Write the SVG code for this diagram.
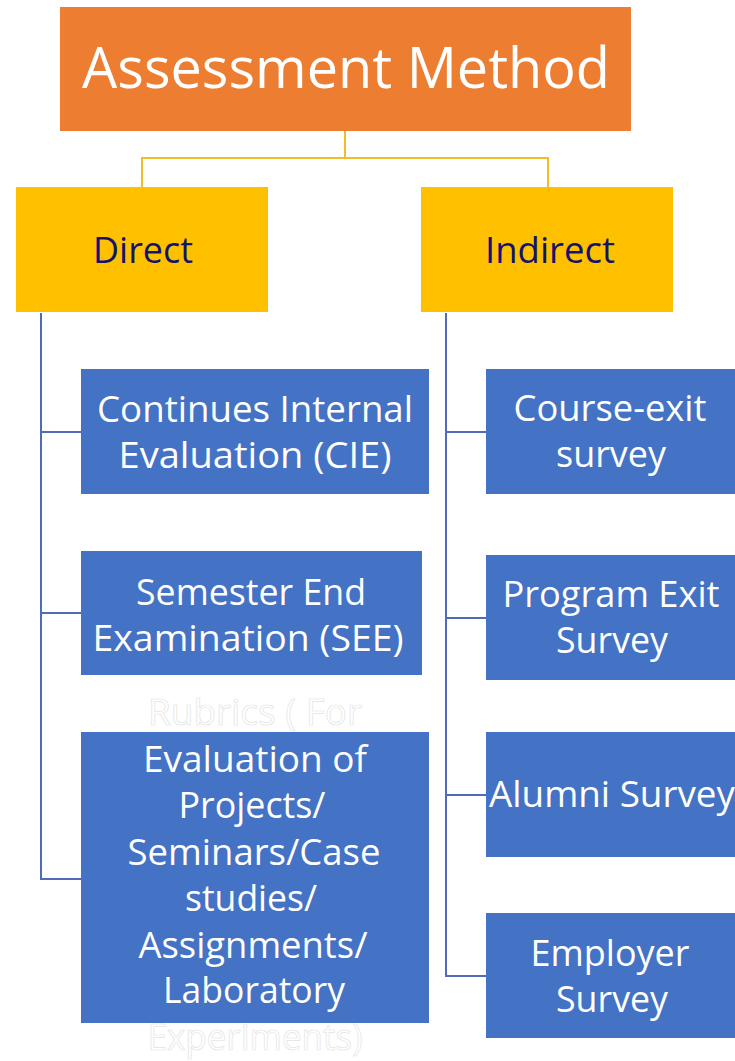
<svg xmlns="http://www.w3.org/2000/svg" width="735" height="1061" viewBox="0 0 735 1061">
  <style>
    .t { font-family: "Open Sans", "Liberation Sans", sans-serif; text-anchor: middle; }
    .w { fill: #ffffff; font-size: 36px; }
    .ghost { fill: #ffffff; stroke: #e4e4e4; stroke-width: 0.7; font-size: 36px; }
    .blue { fill: #4472C4; }
    .yel { fill: #FFC000; }
    .conY { fill: none; stroke: #F0BE2A; stroke-width: 2; }
    .conB { fill: none; stroke: #4F6CB8; stroke-width: 2; }
  </style>
  <rect width="735" height="1061" fill="#ffffff"/>

  <g id="connectors">
    <path class="conY" d="M345,131 V158 M142,187 V158 H548 V187"/>
    <path class="conB" d="M41,313 V879 H81 M41,432 H81 M41,613 H81"/>
    <path class="conB" d="M446,313 V976 H486 M446,432 H486 M446,618 H486 M446,795 H486"/>
  </g>

  <g id="root">
    <rect x="60" y="7" width="571" height="124" fill="#ED7D31"/>
    <text class="t" x="346" y="88" font-size="56" fill="#ffffff" textLength="528" lengthAdjust="spacingAndGlyphs">Assessment Method</text>
  </g>

  <g id="direct">
    <rect class="yel" x="16" y="187" width="252" height="125"/>
    <text class="t" x="143" y="263" font-size="36" fill="#13136E" textLength="100" lengthAdjust="spacingAndGlyphs">Direct</text>
  </g>

  <g id="indirect">
    <rect class="yel" x="421" y="187" width="252" height="125"/>
    <text class="t" x="550" y="263" font-size="36" fill="#13136E" textLength="130" lengthAdjust="spacingAndGlyphs">Indirect</text>
  </g>

  <g id="cie">
    <rect class="blue" x="81" y="369" width="348" height="125"/>
    <text class="t w" x="255" y="422" textLength="316" lengthAdjust="spacingAndGlyphs">Continues Internal</text>
    <text class="t w" x="255" y="468" textLength="273" lengthAdjust="spacingAndGlyphs">Evaluation (CIE)</text>
  </g>

  <g id="see">
    <rect class="blue" x="81" y="551" width="341" height="124"/>
    <text class="t w" x="251" y="605" textLength="230" lengthAdjust="spacingAndGlyphs">Semester End</text>
    <text class="t w" x="248" y="651" textLength="311" lengthAdjust="spacingAndGlyphs">Examination (SEE)</text>
  </g>

  <g id="rubrics">
    <rect class="blue" x="81" y="732" width="348" height="291"/>
    <text class="t ghost" x="255" y="725" textLength="214" lengthAdjust="spacingAndGlyphs">Rubrics ( For</text>
    <text class="t w" x="255" y="772" textLength="224" lengthAdjust="spacingAndGlyphs">Evaluation of</text>
    <text class="t w" x="252" y="818" textLength="147" lengthAdjust="spacingAndGlyphs">Projects/</text>
    <text class="t w" x="254" y="865" textLength="253" lengthAdjust="spacingAndGlyphs">Seminars/Case</text>
    <text class="t w" x="251" y="911" textLength="132" lengthAdjust="spacingAndGlyphs">studies/</text>
    <text class="t w" x="253" y="958" textLength="229" lengthAdjust="spacingAndGlyphs">Assignments/</text>
    <text class="t w" x="254" y="1003" textLength="182" lengthAdjust="spacingAndGlyphs">Laboratory</text>
    <text class="t ghost" x="255" y="1050" textLength="215" lengthAdjust="spacingAndGlyphs">Experiments)</text>
  </g>

  <g id="course-exit">
    <rect class="blue" x="486" y="369" width="249" height="125"/>
    <text class="t w" x="610" y="421" textLength="193" lengthAdjust="spacingAndGlyphs">Course-exit</text>
    <text class="t w" x="611" y="467" textLength="110" lengthAdjust="spacingAndGlyphs">survey</text>
  </g>

  <g id="program-exit">
    <rect class="blue" x="486" y="555" width="249" height="125"/>
    <text class="t w" x="611" y="607" textLength="217" lengthAdjust="spacingAndGlyphs">Program Exit</text>
    <text class="t w" x="612" y="653" textLength="112" lengthAdjust="spacingAndGlyphs">Survey</text>
  </g>

  <g id="alumni">
    <rect class="blue" x="486" y="732" width="249" height="125"/>
    <text class="t w" x="612" y="807" textLength="246" lengthAdjust="spacingAndGlyphs">Alumni Survey</text>
  </g>

  <g id="employer">
    <rect class="blue" x="486" y="913" width="249" height="125"/>
    <text class="t w" x="610" y="966" textLength="159" lengthAdjust="spacingAndGlyphs">Employer</text>
    <text class="t w" x="612" y="1012" textLength="112" lengthAdjust="spacingAndGlyphs">Survey</text>
  </g>
</svg>
